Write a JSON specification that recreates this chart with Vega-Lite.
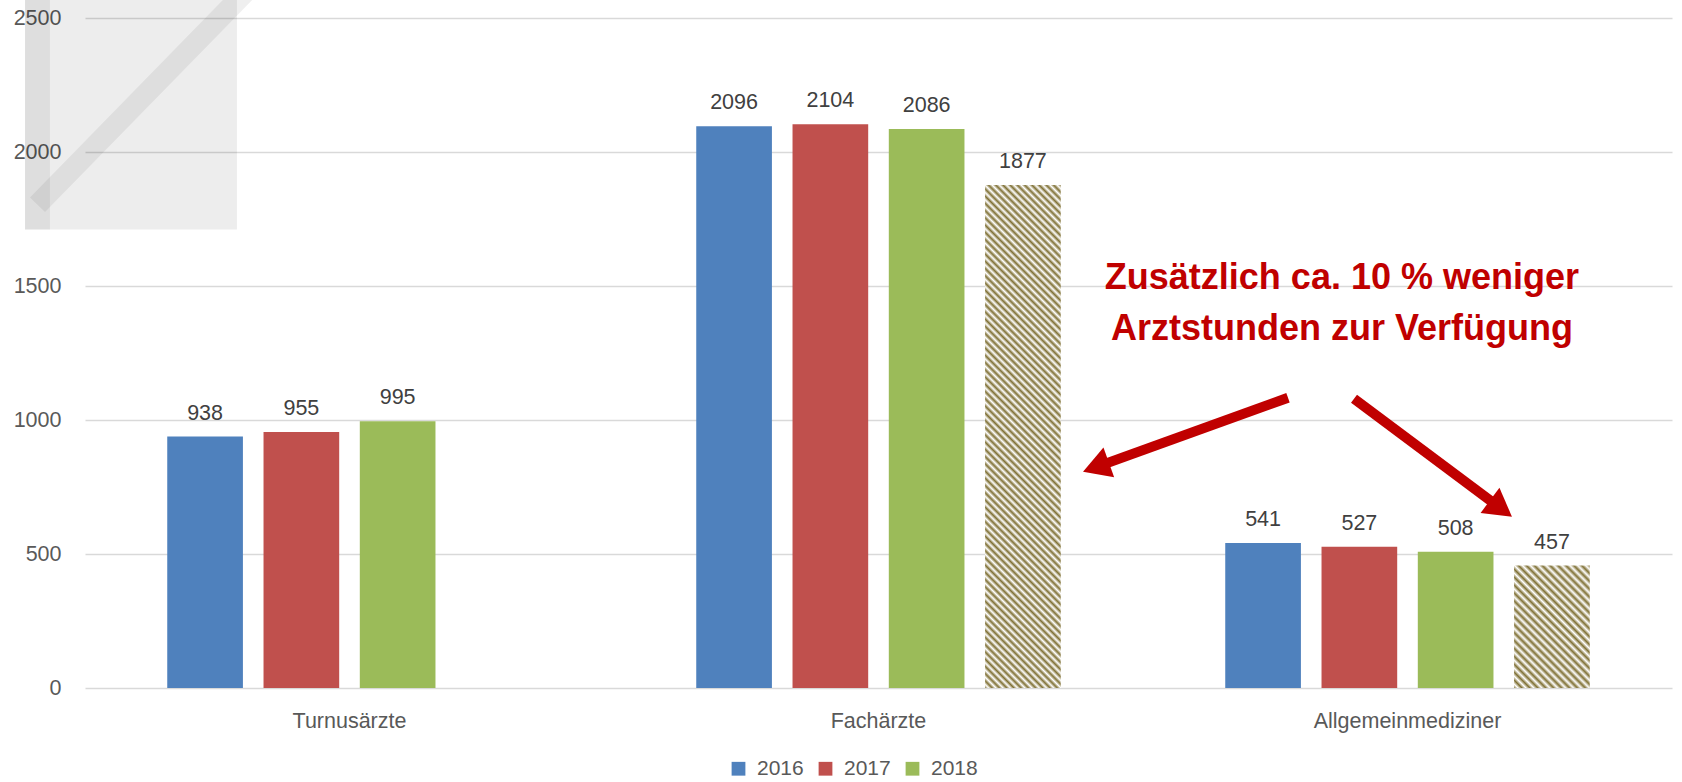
{
  "$schema": "https://vega.github.io/schema/vega-lite/v6.json",
  "width": 1587,
  "height": 670,
  "autosize": {"type": "none"},
  "padding": {"left": 85, "top": 18, "right": 10, "bottom": 94},
  "background": "white",
  "config": {"font": "Liberation Sans", "view": {"stroke": null}},
  "resolve": {"scale": {"x": "independent", "y": "independent"}, "axis": {"x": "independent", "y": "independent"}},
  "layer": [
    {
      "data": {
        "values": [
          {"group": "Turnusärzte", "year": "2016", "value": 938},
          {"group": "Turnusärzte", "year": "2017", "value": 955},
          {"group": "Turnusärzte", "year": "2018", "value": 995},
          {"group": "Fachärzte", "year": "2016", "value": 2096},
          {"group": "Fachärzte", "year": "2017", "value": 2104},
          {"group": "Fachärzte", "year": "2018", "value": 2086},
          {"group": "Fachärzte", "year": "Prognose", "value": 1877},
          {"group": "Allgemeinmediziner", "year": "2016", "value": 541},
          {"group": "Allgemeinmediziner", "year": "2017", "value": 527},
          {"group": "Allgemeinmediziner", "year": "2018", "value": 508},
          {"group": "Allgemeinmediziner", "year": "Prognose", "value": 457}
        ]
      },
      "encoding": {
        "x": {
          "field": "group", "type": "nominal",
          "scale": {"domain": ["Turnusärzte", "Fachärzte", "Allgemeinmediziner"], "paddingInner": 0.272, "paddingOuter": 0.136},
          "axis": {"orient": "bottom", "title": null, "labelAngle": 0, "domain": false, "ticks": false, "tickSize": 0, "labelPadding": 22, "labelFontSize": 21.5, "labelColor": "#595959", "grid": false, "labelLimit": 400}
        },
        "xOffset": {
          "field": "year", "type": "nominal",
          "scale": {"domain": ["2016", "2017", "2018", "Prognose"], "paddingInner": 0.214, "paddingOuter": 0.107}
        },
        "y": {
          "field": "value", "type": "quantitative",
          "scale": {"domain": [0, 2500], "nice": false},
          "axis": {"orient": "left", "values": [0, 500, 1000, 1500, 2000, 2500], "format": "d", "title": null, "domain": false, "ticks": false, "tickSize": 0, "labelPadding": 24, "labelFontSize": 21.5, "labelColor": "#595959", "grid": true, "gridColor": "#d9d9d9", "gridWidth": 1.3}
        }
      },
      "layer": [
        {
          "transform": [{"filter": "datum.year !== 'Prognose'"}],
          "mark": {"type": "bar"},
          "encoding": {
            "color": {
              "field": "year", "type": "nominal",
              "scale": {"domain": ["2016", "2017", "2018"], "range": ["#4f81bd", "#c0504d", "#9bbb59"]},
              "legend": {"orient": "none", "legendX": 643, "legendY": 740, "direction": "horizontal", "title": null, "symbolType": "square", "symbolSize": 190, "symbolStrokeWidth": 0, "labelFontSize": 21, "labelColor": "#595959", "labelOffset": 8, "columnPadding": 11, "padding": 0}
            }
          }
        },
        {
          "transform": [{"filter": "datum.year === 'Prognose' && datum.group === 'Fachärzte'"}],
          "mark": {
            "type": "bar",
            "fill": {
              "gradient": "linear", "x1": 0, "y1": 1, "x2": 0.1693, "y2": -0.125,
              "stops": [
                {"offset": 0, "color": "#7f7034"}, {"offset": 0.00625, "color": "#fff"}, {"offset": 0.0125, "color": "#7f7034"}, {"offset": 0.01875, "color": "#fff"}, {"offset": 0.025, "color": "#7f7034"}, {"offset": 0.03125, "color": "#fff"}, {"offset": 0.0375, "color": "#7f7034"}, {"offset": 0.04375, "color": "#fff"},
                {"offset": 0.05, "color": "#7f7034"}, {"offset": 0.05625, "color": "#fff"}, {"offset": 0.0625, "color": "#7f7034"}, {"offset": 0.06875, "color": "#fff"}, {"offset": 0.075, "color": "#7f7034"}, {"offset": 0.08125, "color": "#fff"}, {"offset": 0.0875, "color": "#7f7034"}, {"offset": 0.09375, "color": "#fff"},
                {"offset": 0.1, "color": "#7f7034"}, {"offset": 0.10625, "color": "#fff"}, {"offset": 0.1125, "color": "#7f7034"}, {"offset": 0.11875, "color": "#fff"}, {"offset": 0.125, "color": "#7f7034"}, {"offset": 0.13125, "color": "#fff"}, {"offset": 0.1375, "color": "#7f7034"}, {"offset": 0.14375, "color": "#fff"},
                {"offset": 0.15, "color": "#7f7034"}, {"offset": 0.15625, "color": "#fff"}, {"offset": 0.1625, "color": "#7f7034"}, {"offset": 0.16875, "color": "#fff"}, {"offset": 0.175, "color": "#7f7034"}, {"offset": 0.18125, "color": "#fff"}, {"offset": 0.1875, "color": "#7f7034"}, {"offset": 0.19375, "color": "#fff"},
                {"offset": 0.2, "color": "#7f7034"}, {"offset": 0.20625, "color": "#fff"}, {"offset": 0.2125, "color": "#7f7034"}, {"offset": 0.21875, "color": "#fff"}, {"offset": 0.225, "color": "#7f7034"}, {"offset": 0.23125, "color": "#fff"}, {"offset": 0.2375, "color": "#7f7034"}, {"offset": 0.24375, "color": "#fff"},
                {"offset": 0.25, "color": "#7f7034"}, {"offset": 0.25625, "color": "#fff"}, {"offset": 0.2625, "color": "#7f7034"}, {"offset": 0.26875, "color": "#fff"}, {"offset": 0.275, "color": "#7f7034"}, {"offset": 0.28125, "color": "#fff"}, {"offset": 0.2875, "color": "#7f7034"}, {"offset": 0.29375, "color": "#fff"},
                {"offset": 0.3, "color": "#7f7034"}, {"offset": 0.30625, "color": "#fff"}, {"offset": 0.3125, "color": "#7f7034"}, {"offset": 0.31875, "color": "#fff"}, {"offset": 0.325, "color": "#7f7034"}, {"offset": 0.33125, "color": "#fff"}, {"offset": 0.3375, "color": "#7f7034"}, {"offset": 0.34375, "color": "#fff"},
                {"offset": 0.35, "color": "#7f7034"}, {"offset": 0.35625, "color": "#fff"}, {"offset": 0.3625, "color": "#7f7034"}, {"offset": 0.36875, "color": "#fff"}, {"offset": 0.375, "color": "#7f7034"}, {"offset": 0.38125, "color": "#fff"}, {"offset": 0.3875, "color": "#7f7034"}, {"offset": 0.39375, "color": "#fff"},
                {"offset": 0.4, "color": "#7f7034"}, {"offset": 0.40625, "color": "#fff"}, {"offset": 0.4125, "color": "#7f7034"}, {"offset": 0.41875, "color": "#fff"}, {"offset": 0.425, "color": "#7f7034"}, {"offset": 0.43125, "color": "#fff"}, {"offset": 0.4375, "color": "#7f7034"}, {"offset": 0.44375, "color": "#fff"},
                {"offset": 0.45, "color": "#7f7034"}, {"offset": 0.45625, "color": "#fff"}, {"offset": 0.4625, "color": "#7f7034"}, {"offset": 0.46875, "color": "#fff"}, {"offset": 0.475, "color": "#7f7034"}, {"offset": 0.48125, "color": "#fff"}, {"offset": 0.4875, "color": "#7f7034"}, {"offset": 0.49375, "color": "#fff"},
                {"offset": 0.5, "color": "#7f7034"}, {"offset": 0.50625, "color": "#fff"}, {"offset": 0.5125, "color": "#7f7034"}, {"offset": 0.51875, "color": "#fff"}, {"offset": 0.525, "color": "#7f7034"}, {"offset": 0.53125, "color": "#fff"}, {"offset": 0.5375, "color": "#7f7034"}, {"offset": 0.54375, "color": "#fff"},
                {"offset": 0.55, "color": "#7f7034"}, {"offset": 0.55625, "color": "#fff"}, {"offset": 0.5625, "color": "#7f7034"}, {"offset": 0.56875, "color": "#fff"}, {"offset": 0.575, "color": "#7f7034"}, {"offset": 0.58125, "color": "#fff"}, {"offset": 0.5875, "color": "#7f7034"}, {"offset": 0.59375, "color": "#fff"},
                {"offset": 0.6, "color": "#7f7034"}, {"offset": 0.60625, "color": "#fff"}, {"offset": 0.6125, "color": "#7f7034"}, {"offset": 0.61875, "color": "#fff"}, {"offset": 0.625, "color": "#7f7034"}, {"offset": 0.63125, "color": "#fff"}, {"offset": 0.6375, "color": "#7f7034"}, {"offset": 0.64375, "color": "#fff"},
                {"offset": 0.65, "color": "#7f7034"}, {"offset": 0.65625, "color": "#fff"}, {"offset": 0.6625, "color": "#7f7034"}, {"offset": 0.66875, "color": "#fff"}, {"offset": 0.675, "color": "#7f7034"}, {"offset": 0.68125, "color": "#fff"}, {"offset": 0.6875, "color": "#7f7034"}, {"offset": 0.69375, "color": "#fff"},
                {"offset": 0.7, "color": "#7f7034"}, {"offset": 0.70625, "color": "#fff"}, {"offset": 0.7125, "color": "#7f7034"}, {"offset": 0.71875, "color": "#fff"}, {"offset": 0.725, "color": "#7f7034"}, {"offset": 0.73125, "color": "#fff"}, {"offset": 0.7375, "color": "#7f7034"}, {"offset": 0.74375, "color": "#fff"},
                {"offset": 0.75, "color": "#7f7034"}, {"offset": 0.75625, "color": "#fff"}, {"offset": 0.7625, "color": "#7f7034"}, {"offset": 0.76875, "color": "#fff"}, {"offset": 0.775, "color": "#7f7034"}, {"offset": 0.78125, "color": "#fff"}, {"offset": 0.7875, "color": "#7f7034"}, {"offset": 0.79375, "color": "#fff"},
                {"offset": 0.8, "color": "#7f7034"}, {"offset": 0.80625, "color": "#fff"}, {"offset": 0.8125, "color": "#7f7034"}, {"offset": 0.81875, "color": "#fff"}, {"offset": 0.825, "color": "#7f7034"}, {"offset": 0.83125, "color": "#fff"}, {"offset": 0.8375, "color": "#7f7034"}, {"offset": 0.84375, "color": "#fff"},
                {"offset": 0.85, "color": "#7f7034"}, {"offset": 0.85625, "color": "#fff"}, {"offset": 0.8625, "color": "#7f7034"}, {"offset": 0.86875, "color": "#fff"}, {"offset": 0.875, "color": "#7f7034"}, {"offset": 0.88125, "color": "#fff"}, {"offset": 0.8875, "color": "#7f7034"}, {"offset": 0.89375, "color": "#fff"},
                {"offset": 0.9, "color": "#7f7034"}, {"offset": 0.90625, "color": "#fff"}, {"offset": 0.9125, "color": "#7f7034"}, {"offset": 0.91875, "color": "#fff"}, {"offset": 0.925, "color": "#7f7034"}, {"offset": 0.93125, "color": "#fff"}, {"offset": 0.9375, "color": "#7f7034"}, {"offset": 0.94375, "color": "#fff"},
                {"offset": 0.95, "color": "#7f7034"}, {"offset": 0.95625, "color": "#fff"}, {"offset": 0.9625, "color": "#7f7034"}, {"offset": 0.96875, "color": "#fff"}, {"offset": 0.975, "color": "#7f7034"}, {"offset": 0.98125, "color": "#fff"}, {"offset": 0.9875, "color": "#7f7034"}, {"offset": 0.99375, "color": "#fff"},
                {"offset": 1, "color": "#7f7034"}
              ]
            }
          }
        },
        {
          "transform": [{"filter": "datum.year === 'Prognose' && datum.group === 'Allgemeinmediziner'"}],
          "mark": {
            "type": "bar",
            "fill": {
              "gradient": "linear", "x1": 0, "y1": 1, "x2": 0.7236, "y2": -0.1708,
              "stops": [
                {"offset": 0, "color": "#7f7034"}, {"offset": 0.02, "color": "#fff"}, {"offset": 0.04, "color": "#7f7034"}, {"offset": 0.06, "color": "#fff"}, {"offset": 0.08, "color": "#7f7034"}, {"offset": 0.1, "color": "#fff"},
                {"offset": 0.12, "color": "#7f7034"}, {"offset": 0.14, "color": "#fff"}, {"offset": 0.16, "color": "#7f7034"}, {"offset": 0.18, "color": "#fff"}, {"offset": 0.2, "color": "#7f7034"}, {"offset": 0.22, "color": "#fff"},
                {"offset": 0.24, "color": "#7f7034"}, {"offset": 0.26, "color": "#fff"}, {"offset": 0.28, "color": "#7f7034"}, {"offset": 0.3, "color": "#fff"}, {"offset": 0.32, "color": "#7f7034"}, {"offset": 0.34, "color": "#fff"},
                {"offset": 0.36, "color": "#7f7034"}, {"offset": 0.38, "color": "#fff"}, {"offset": 0.4, "color": "#7f7034"}, {"offset": 0.42, "color": "#fff"}, {"offset": 0.44, "color": "#7f7034"}, {"offset": 0.46, "color": "#fff"},
                {"offset": 0.48, "color": "#7f7034"}, {"offset": 0.5, "color": "#fff"}, {"offset": 0.52, "color": "#7f7034"}, {"offset": 0.54, "color": "#fff"}, {"offset": 0.56, "color": "#7f7034"}, {"offset": 0.58, "color": "#fff"},
                {"offset": 0.6, "color": "#7f7034"}, {"offset": 0.62, "color": "#fff"}, {"offset": 0.64, "color": "#7f7034"}, {"offset": 0.66, "color": "#fff"}, {"offset": 0.68, "color": "#7f7034"}, {"offset": 0.7, "color": "#fff"},
                {"offset": 0.72, "color": "#7f7034"}, {"offset": 0.74, "color": "#fff"}, {"offset": 0.76, "color": "#7f7034"}, {"offset": 0.78, "color": "#fff"}, {"offset": 0.8, "color": "#7f7034"}, {"offset": 0.82, "color": "#fff"},
                {"offset": 0.84, "color": "#7f7034"}, {"offset": 0.86, "color": "#fff"}, {"offset": 0.88, "color": "#7f7034"}, {"offset": 0.9, "color": "#fff"}, {"offset": 0.92, "color": "#7f7034"}, {"offset": 0.94, "color": "#fff"},
                {"offset": 0.96, "color": "#7f7034"}, {"offset": 0.98, "color": "#fff"}, {"offset": 1, "color": "#7f7034"}
              ]
            }
          }
        },
        {
          "mark": {"type": "text", "baseline": "alphabetic", "dy": -17, "fontSize": 21.5, "color": "#404040"},
          "encoding": {"text": {"field": "value", "type": "quantitative", "format": "d"}}
        }
      ]
    },
    {
      "data": {"values": [{}]},
      "mark": {"type": "rect", "color": "#000000", "opacity": 0.07},
      "encoding": {
        "x": {"datum": -0.1134, "type": "quantitative", "scale": {"domain": [0, 3], "nice": false, "zero": false}, "axis": null},
        "x2": {"datum": 0.2873},
        "y": {"datum": 2568, "type": "quantitative", "scale": {"domain": [0, 2500], "nice": false}, "axis": null},
        "y2": {"datum": 1710.6}
      }
    },
    {
      "data": {"values": [{}]},
      "mark": {"type": "rule", "color": "#000000", "opacity": 0.063, "strokeWidth": 25, "strokeCap": "butt"},
      "encoding": {
        "x": {"datum": -0.0898, "type": "quantitative", "scale": {"domain": [0, 3], "nice": false, "zero": false}, "axis": null},
        "x2": {"datum": -0.0898},
        "y": {"datum": 2568, "type": "quantitative", "scale": {"domain": [0, 2500], "nice": false}, "axis": null},
        "y2": {"datum": 1710.6}
      }
    },
    {
      "data": {"values": [{}]},
      "mark": {"type": "rule", "color": "#000000", "opacity": 0.063, "strokeWidth": 21, "strokeCap": "butt"},
      "encoding": {
        "x": {"datum": -0.0898, "type": "quantitative", "scale": {"domain": [0, 3], "nice": false, "zero": false}, "axis": null},
        "x2": {"datum": 0.3119},
        "y": {"datum": 1803.2, "type": "quantitative", "scale": {"domain": [0, 2500], "nice": false}, "axis": null},
        "y2": {"datum": 2614.7}
      }
    },
    {
      "data": {"values": [{}]},
      "mark": {"type": "rule", "color": "#c00000", "strokeWidth": 10, "strokeCap": "butt"},
      "encoding": {
        "x": {"datum": 2.2741, "type": "quantitative", "scale": {"domain": [0, 3], "nice": false, "zero": false}, "axis": null},
        "x2": {"datum": 1.911},
        "y": {"datum": 1083.1, "type": "quantitative", "scale": {"domain": [0, 2500], "nice": false}, "axis": null},
        "y2": {"datum": 824.2}
      }
    },
    {
      "data": {"values": [{}]},
      "mark": {"type": "point", "shape": "triangle-up", "size": 1000, "filled": true, "color": "#c00000", "opacity": 1, "angle": 250.2},
      "encoding": {
        "x": {"datum": 1.911, "type": "quantitative", "scale": {"domain": [0, 3], "nice": false, "zero": false}, "axis": null},
        "y": {"datum": 824.2, "type": "quantitative", "scale": {"domain": [0, 2500], "nice": false}, "axis": null}
      }
    },
    {
      "data": {"values": [{}]},
      "mark": {"type": "rule", "color": "#c00000", "strokeWidth": 10, "strokeCap": "butt"},
      "encoding": {
        "x": {"datum": 2.3989, "type": "quantitative", "scale": {"domain": [0, 3], "nice": false, "zero": false}, "axis": null},
        "x2": {"datum": 2.6767},
        "y": {"datum": 1079.4, "type": "quantitative", "scale": {"domain": [0, 2500], "nice": false}, "axis": null},
        "y2": {"datum": 669.7}
      }
    },
    {
      "data": {"values": [{}]},
      "mark": {"type": "point", "shape": "triangle-up", "size": 1000, "filled": true, "color": "#c00000", "opacity": 1, "angle": 126.7},
      "encoding": {
        "x": {"datum": 2.6767, "type": "quantitative", "scale": {"domain": [0, 3], "nice": false, "zero": false}, "axis": null},
        "y": {"datum": 669.7, "type": "quantitative", "scale": {"domain": [0, 2500], "nice": false}, "axis": null}
      }
    },
    {
      "data": {"values": [{}]},
      "mark": {"type": "text", "text": ["Zusätzlich ca. 10 % weniger", "Arztstunden zur Verfügung"], "fontWeight": "bold", "fontSize": 36, "color": "#c00000", "align": "center", "baseline": "alphabetic", "lineHeight": 51},
      "encoding": {
        "x": {"datum": 2.376, "type": "quantitative", "scale": {"domain": [0, 3], "nice": false, "zero": false}, "axis": null},
        "y": {"datum": 1490, "type": "quantitative", "scale": {"domain": [0, 2500], "nice": false}, "axis": null}
      }
    }
  ]
}
